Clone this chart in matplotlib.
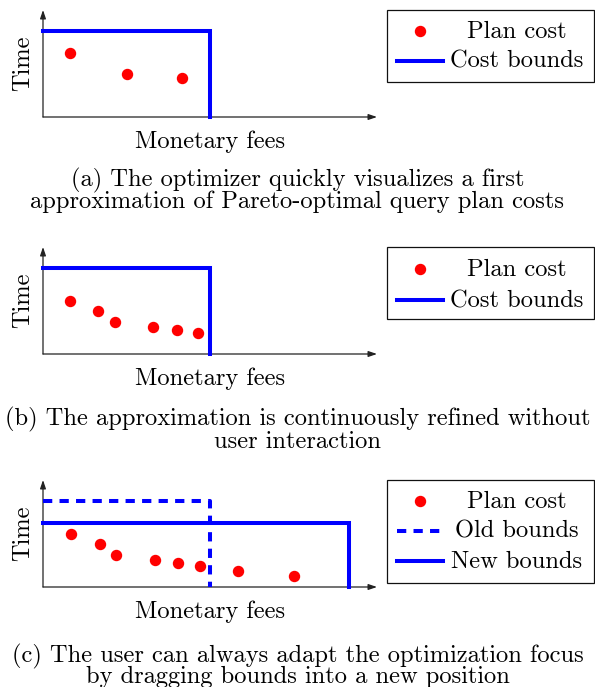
import matplotlib.pyplot as plt
from matplotlib.lines import Line2D
from matplotlib.patches import Rectangle

plt.rcParams['font.family'] = 'cmr10'
plt.rcParams['mathtext.fontset'] = 'cm'
plt.rcParams['axes.unicode_minus'] = False

W, H = 595, 687

# (a) first approximation
fees_a = [0.8, 2.5, 4.15]
time_a = [3.0, 2.0, 1.8]
bound_a = (5.0, 4.0)

# (b) refined approximation
fees_b = [0.8, 1.65, 2.15, 3.3, 4.0, 4.65]
time_b = [2.5, 2.0, 1.5, 1.25, 1.1, 1.0]
bound_b = (5.0, 4.0)

# (c) user moved the bounds
fees_c = [0.85, 1.7, 2.2, 3.35, 4.05, 4.7, 5.85, 7.5]
time_c = [2.5, 2.0, 1.5, 1.25, 1.1, 1.0, 0.75, 0.5]
old_bound_c = (5.0, 4.0)
new_bound_c = (9.15, 3.0)

captions = [
    ["(a) The optimizer quickly visualizes a first",
     "approximation of Pareto-optimal query plan costs"],
    ["(b) The approximation is continuously refined without",
     "user interaction"],
    ["(c) The user can always adapt the optimization focus",
     "by dragging bounds into a new position"],
]

FS = 17.6
dot_style = dict(color='#ff0000', marker='o', ms=7.2, ls='none')
bound_style = dict(color='#0000ff', lw=2.9, solid_joinstyle='miter')
old_style = dict(color='#0000ff', lw=2.9, ls=(0, (2.3, 1.8)))

fig = plt.figure(figsize=(W / 100, H / 100), dpi=100)


def fx(x):
    return x / W


def fy(y):
    return 1 - y / H


def panel(oy, fees, times, bounds):
    ax = fig.add_axes([fx(43), fy(oy), 334 / W, 107 / H])
    ax.set_xlim(0, 10)
    ax.set_ylim(0, 5)
    ax.axis('off')
    arrow = dict(arrowstyle='-|>,head_length=0.5,head_width=0.17', lw=0.9,
                 color='#222222', mutation_scale=10, shrinkA=0, shrinkB=0)
    ax.annotate('', xy=(1, 0), xytext=(0, 0), xycoords='axes fraction',
                arrowprops=arrow, zorder=1)
    ax.annotate('', xy=(0, 1), xytext=(0, 0), xycoords='axes fraction',
                arrowprops=arrow, zorder=1)
    for (bx, by), style in bounds:
        ax.plot([0, bx, bx], [by, by, 0], zorder=3, clip_on=False, **style)
    ax.plot(fees, times, zorder=4, clip_on=False, **dot_style)
    fig.text(fx(210), fy(oy + 31), 'Monetary fees', fontsize=FS,
             ha='center', va='baseline')
    fig.text(fx(29), fy(oy - 54), 'Time', fontsize=FS, rotation=90,
             ha='center', va='baseline', rotation_mode='anchor')
    return ax


def legend_box(top, bottom, entries):
    fig.add_artist(Rectangle((fx(387), fy(bottom)), (594 - 387) / W,
                             (bottom - top) / H, transform=fig.transFigure,
                             fill=False, ec='#111111', lw=0.9))
    for y, label, style in entries:
        if style.get('marker'):
            fig.add_artist(Line2D([fx(420)], [fy(y - 7)],
                                  transform=fig.transFigure, **style))
        else:
            fig.add_artist(Line2D([fx(397), fx(443)], [fy(y - 7), fy(y - 7)],
                                  transform=fig.transFigure, **style))
        fig.text(fx(517), fy(y), label, fontsize=FS, ha='center',
                 va='baseline')


panel(117, fees_a, time_a, [(bound_a, bound_style)])
legend_box(10, 82, [(38, 'Plan cost', dot_style),
                    (68, 'Cost bounds', bound_style)])

panel(354, fees_b, time_b, [(bound_b, bound_style)])
legend_box(247, 319, [(276, 'Plan cost', dot_style),
                      (307, 'Cost bounds', bound_style)])

panel(587, fees_c, time_c, [(old_bound_c, old_style),
                            (new_bound_c, bound_style)])
legend_box(480, 583, [(508, 'Plan cost', dot_style),
                      (538, 'Old bounds', old_style),
                      (568, 'New bounds', bound_style)])

for (l1, l2), (b1, b2) in zip(captions, [(186, 208), (425, 448), (662, 683)]):
    fig.text(0.5, fy(b1), l1, fontsize=FS, ha='center', va='baseline')
    fig.text(0.5, fy(b2), l2, fontsize=FS, ha='center', va='baseline')

fig.savefig('out.png', dpi=100)
